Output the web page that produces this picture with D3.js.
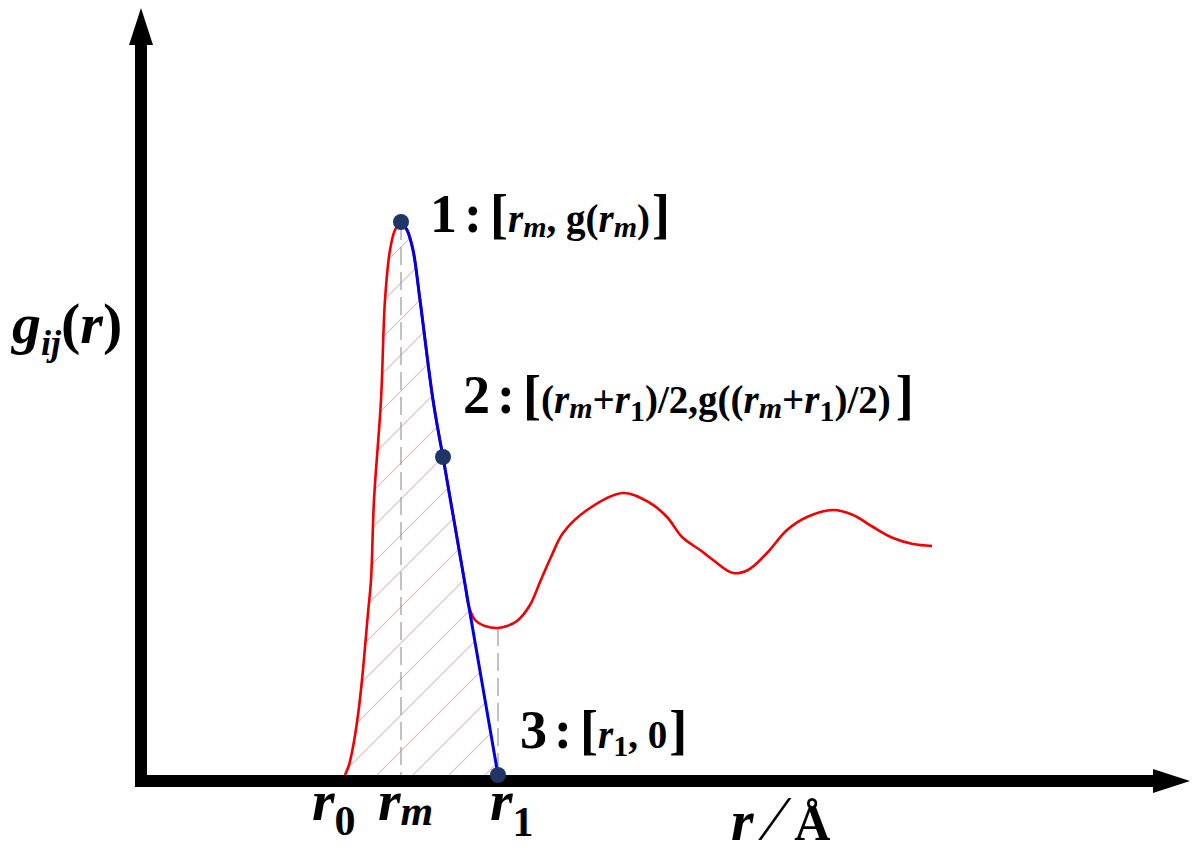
<!DOCTYPE html>
<html>
<head>
<meta charset="utf-8">
<script src="https://cdn.jsdelivr.net/npm/d3@7"></script>
<style>
  html, body { margin: 0; padding: 0; background: #fff; }
  svg { display: block; }
  text { font-family: "Liberation Serif", "Times New Roman", serif; fill: #000; }
</style>
</head>
<body>
<svg id="chart" width="1200" height="856"></svg>
<script>
// ---- data ----
const curveR = [2.04, 2.08, 2.12, 2.17, 2.21, 2.27, 2.30, 2.33, 2.40, 2.44, 2.49, 2.54, 2.60,
  2.66, 2.72, 2.79, 2.92, 3.02, 3.14, 3.24, 3.28, 3.34, 3.44, 3.56, 3.66, 3.76, 3.89, 3.99,
  4.10, 4.22, 4.46, 4.82, 5.09, 5.26, 5.41, 5.59, 5.72, 5.92, 6.07, 6.26, 6.46, 6.66, 6.92,
  7.12, 7.32, 7.52, 7.72, 7.91];
const curveG = [0.00, 0.10, 0.28, 0.60, 0.95, 1.62, 1.95, 2.75, 3.75, 4.75, 5.25, 5.45, 5.53,
  5.45, 5.25, 4.75, 3.75, 3.18, 2.49, 1.91, 1.68, 1.55, 1.49, 1.47, 1.49, 1.54, 1.70, 1.93,
  2.18, 2.42, 2.65, 2.82, 2.72, 2.58, 2.38, 2.25, 2.15, 2.02, 2.05, 2.22, 2.45, 2.58, 2.65,
  2.60, 2.48, 2.37, 2.31, 2.29];
const r0 = 2.04, rm = 2.60, r1 = 3.57;
const pointR = [2.60, 3.02, 3.57];
const pointG = [5.53, 3.18, 0.00];
const gMinAtR1 = 1.47;
const tickValues = [r0, rm, r1];
const tickSubs = ["0", "m", "1"];

// ---- scales ----
const svg = d3.select("#chart");
const x = d3.scaleLinear().domain([0, 10]).range([141, 1141]);
const y = d3.scaleLinear().domain([0, 7]).range([775, 75]);

const defs = svg.append("defs");
const pat = defs.append("pattern").attr("id", "hatch")
  .attr("patternUnits", "userSpaceOnUse").attr("width", 36).attr("height", 36);
pat.append("path").attr("d", "M0,36 L36,0 M-9,9 L9,-9 M27,45 L45,27")
  .attr("stroke", "#dfbdbb").attr("stroke-width", 1.1);

const pts = curveR.map((r, i) => [r, curveG[i]]);
const lineCR = d3.line().x(d => x(d[0])).y(d => y(d[1])).curve(d3.curveCatmullRom.alpha(0.5));

// hatched area
const leftPts = pts.filter(p => p[0] <= rm);
const upperBlue = pts.filter(p => p[0] >= rm && p[0] <= pointR[1]);
const hatchPath = lineCR(leftPts.concat(upperBlue.slice(1))) +
  "L" + x(r1) + "," + y(0) + "L" + x(r0) + "," + y(0) + "Z";
svg.append("path").attr("d", hatchPath).attr("fill", "url(#hatch)").attr("stroke", "none");

// dashed guide lines
svg.append("line").attr("x1", x(rm)).attr("x2", x(rm)).attr("y1", y(pointG[0])).attr("y2", y(0))
  .attr("stroke", "#a0a0a0").attr("stroke-width", 1.3).attr("stroke-dasharray", "18,7");
svg.append("line").attr("x1", x(r1)).attr("x2", x(r1)).attr("y1", y(gMinAtR1)).attr("y2", y(0))
  .attr("stroke", "#a0a0a0").attr("stroke-width", 1.3).attr("stroke-dasharray", "18,7");

// red g(r) curve
svg.append("path").attr("d", lineCR(pts)).attr("fill", "none")
  .attr("stroke", "#f00000").attr("stroke-width", 2.6);

// blue segment
svg.append("path").attr("d", lineCR(upperBlue)).attr("fill", "none")
  .attr("stroke", "#0000e6").attr("stroke-width", 3);
svg.append("line").attr("x1", x(pointR[1])).attr("y1", y(pointG[1]))
  .attr("x2", x(pointR[2])).attr("y2", y(pointG[2]))
  .attr("stroke", "#0000e6").attr("stroke-width", 3);

// axes (thick arrows)
const ax0 = x(0), ay0 = y(0) + 6;
svg.append("rect").attr("x", ax0 - 6).attr("y", 44).attr("width", 12).attr("height", ay0 + 6 - 44).attr("fill", "#000");
svg.append("path").attr("d", `M${ax0 - 12},45 L${ax0 + 12},45 L${ax0},8 Z`).attr("fill", "#000");
svg.append("rect").attr("x", ax0 - 6).attr("y", ay0 - 6).attr("width", 1154 - (ax0 - 6)).attr("height", 12).attr("fill", "#000");
svg.append("path").attr("d", `M1153,${ay0 - 12} L1153,${ay0 + 12} L1190,${ay0} Z`).attr("fill", "#000");

// points
svg.selectAll("circle.pt").data(pointR).enter().append("circle")
  .attr("class", "pt")
  .attr("cx", d => x(d)).attr("cy", (d, i) => y(pointG[i])).attr("r", 8)
  .attr("fill", "#1f3566");

// ---- annotation labels ----
function rich(parent, xx, yy, parts) {
  const t = parent.append("text").attr("x", xx).attr("y", yy);
  parts.forEach(p => {
    const s = t.append("tspan").text(p.t)
      .attr("font-size", p.s).attr("font-weight", "bold");
    if (p.i) s.attr("font-style", "italic");
    if (p.dy) s.attr("dy", p.dy);
    if (p.dx) s.attr("dx", p.dx);
  });
  return t;
}
const B = 54, M = 39, S = 30;
rich(svg, x(pointR[0]) + 29, y(pointG[0]) + 10, [
  {t: "1", s: B}, {t: ":", s: B, dx: 7}, {t: "[", s: B, dx: 8},
  {t: "r", s: M, i: 1}, {t: "m", s: S, i: 1, dy: 5}, {t: ", g(", s: M, dy: -5},
  {t: "r", s: M, i: 1}, {t: "m", s: S, i: 1, dy: 5}, {t: ")", s: M, dy: -5}, {t: "]", s: B, dx: 2}
]);
rich(svg, x(pointR[1]) + 20, y(pointG[1]) - 44, [
  {t: "2", s: B}, {t: ":", s: B, dx: 7}, {t: "[", s: B, dx: 8},
  {t: "(", s: M}, {t: "r", s: M, i: 1}, {t: "m", s: S, i: 1, dy: 5}, {t: "+", s: M, dy: -5},
  {t: "r", s: M, i: 1}, {t: "1", s: S, dy: 8}, {t: ")/2,g((", s: M, dy: -8},
  {t: "r", s: M, i: 1}, {t: "m", s: S, i: 1, dy: 5}, {t: "+", s: M, dy: -5},
  {t: "r", s: M, i: 1}, {t: "1", s: S, dy: 8}, {t: ")/2)", s: M, dy: -8}, {t: "]", s: B, dx: 5}
]);
rich(svg, x(pointR[2]) + 22, y(pointG[2]) - 27, [
  {t: "3", s: B}, {t: ":", s: B, dx: 7}, {t: "[", s: B, dx: 8},
  {t: "r", s: M, i: 1}, {t: "1", s: S, dy: 8}, {t: ", 0", s: M, dy: -8}, {t: "]", s: B, dx: 2}
]);

// tick labels r0, rm, r1
const tickOffsets = [-33, -23, -8];
const subDy = [15, 5, 16];
tickValues.forEach((v, i) => {
  const t = svg.append("text").attr("x", x(v) + tickOffsets[i]).attr("y", 820);
  t.append("tspan").text("r").attr("font-size", 58).attr("font-weight", "bold").attr("font-style", "italic");
  const s = t.append("tspan").text(tickSubs[i]).attr("font-size", 42).attr("font-weight", "bold").attr("dy", subDy[i]);
  if (tickSubs[i] === "m") s.attr("font-style", "italic");
});

// axis titles
const xt = svg.append("text").attr("x", 731).attr("y", 840);
xt.append("tspan").text("r").attr("font-size", 58).attr("font-weight", "bold").attr("font-style", "italic");
xt.append("tspan").text("\u2044").attr("font-size", 64).attr("dx", 16);
xt.append("tspan").text("Å").attr("font-size", 50).attr("font-weight", "bold").attr("dx", 14);

const yt = svg.append("text").attr("x", 12).attr("y", 343);
yt.append("tspan").text("g").attr("font-size", 58).attr("font-weight", "bold").attr("font-style", "italic");
yt.append("tspan").text("ij").attr("font-size", 36).attr("font-weight", "bold").attr("font-style", "italic").attr("dy", 12);
yt.append("tspan").text("(").attr("font-size", 58).attr("font-weight", "bold").attr("dy", -12);
yt.append("tspan").text("r").attr("font-size", 58).attr("font-weight", "bold").attr("font-style", "italic");
yt.append("tspan").text(")").attr("font-size", 58).attr("font-weight", "bold");
</script>
</body>
</html>
